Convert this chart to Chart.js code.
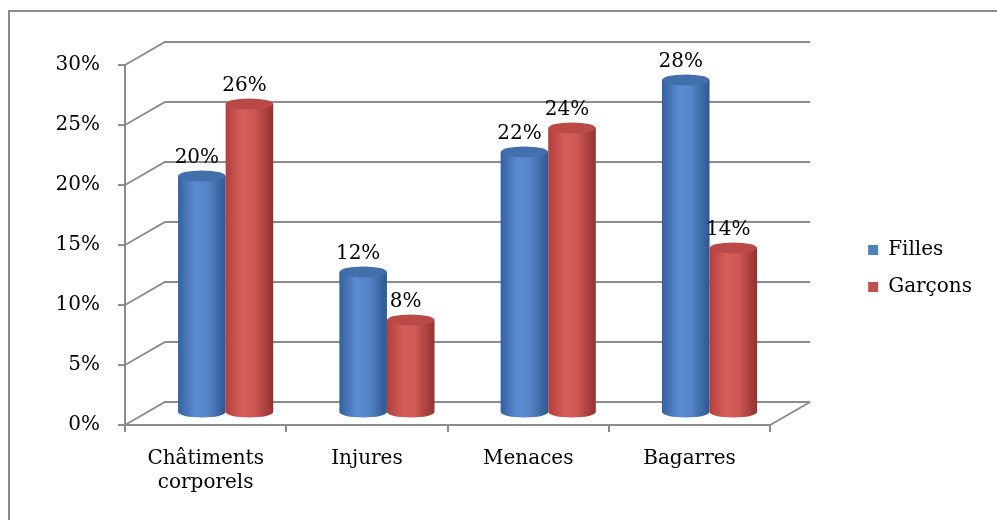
<!DOCTYPE html>
<html>
<head>
<meta charset="utf-8">
<script src="https://cdn.jsdelivr.net/npm/chart.js@4.4.1/dist/chart.umd.min.js"></script>
<style>
  html, body { margin: 0; padding: 0; background: #fff; }
  canvas { display: block; }
</style>
</head>
<body>
<canvas id="chart" width="997" height="520"></canvas>
<script>
const categories = [['Châtiments', 'corporels'], 'Injures', 'Menaces', 'Bagarres'];
const filles = [20, 12, 22, 28];
const garcons = [26, 8, 24, 14];
const seriesNames = ['Filles', 'Garçons'];

const GRID = '#8c8c8c';
const DEPTH_X = 40, DEPTH_Y = -23;   // back wall offset from the front axes
const BAR_DX = 20, BAR_DY = -9;      // cylinders stand half way in
const RY = 5.5;                      // ellipse half height

const looks = [
  { stops: ['#34619e', '#5a8ad0', '#5686c9', '#2e5891'], top: '#4270ad' },
  { stops: ['#b23f3c', '#d65e5a', '#cf5854', '#913331'], top: '#bb4a47' }
];

const cylinders = {
  id: 'cylinders',
  beforeDraw(chart) {
    const ctx = chart.ctx;
    ctx.save();
    ctx.strokeStyle = GRID;
    ctx.lineWidth = 2;
    ctx.strokeRect(9, 11, 2000, 2000);
    ctx.restore();
  },
  beforeDatasetsDraw(chart) {
    const ctx = chart.ctx, y = chart.scales.y, a = chart.chartArea;
    ctx.save();
    ctx.strokeStyle = GRID;
    ctx.lineWidth = 2;
    ctx.beginPath();
    y.ticks.forEach(t => {
      const fy = y.getPixelForValue(t.value);
      ctx.moveTo(a.left, fy);
      ctx.lineTo(a.left + DEPTH_X, fy + DEPTH_Y);
      ctx.lineTo(a.right + DEPTH_X, fy + DEPTH_Y);
    });
    ctx.moveTo(a.right, a.bottom);
    ctx.lineTo(a.right + DEPTH_X, a.bottom + DEPTH_Y);
    ctx.stroke();
    ctx.restore();
  },
  beforeDatasetDraw() {
    return false;
  },
  afterDatasetsDraw(chart) {
    const ctx = chart.ctx;
    ctx.save();
    chart.data.datasets.forEach((ds, di) => {
      const look = looks[di];
      chart.getDatasetMeta(di).data.forEach((bar, i) => {
        const { x, y, base, width } = bar;
        const cx = x + BAR_DX, rx = width / 2;
        const l = cx - rx, r = cx + rx;
        const topY = y + BAR_DY, botY = base + BAR_DY - 3;
        const g = ctx.createLinearGradient(l, 0, r, 0);
        g.addColorStop(0, look.stops[0]);
        g.addColorStop(0.35, look.stops[1]);
        g.addColorStop(0.6, look.stops[2]);
        g.addColorStop(1, look.stops[3]);
        ctx.fillStyle = g;
        ctx.beginPath();
        ctx.moveTo(l, topY);
        ctx.lineTo(l, botY);
        ctx.ellipse(cx, botY, rx, RY, 0, Math.PI, 0, true);
        ctx.lineTo(r, topY);
        ctx.closePath();
        ctx.fill();
        ctx.fillStyle = look.top;
        ctx.beginPath();
        ctx.ellipse(cx, topY, rx, RY, 0, 0, Math.PI * 2);
        ctx.fill();

        ctx.fillStyle = '#000';
        ctx.font = '20px "DejaVu Serif"';
        ctx.textAlign = 'center';
        ctx.textBaseline = 'alphabetic';
        ctx.fillText(ds.data[i] + '%', cx - 5, topY - RY - 8);
      });
    });
    ctx.restore();
  }
};

Chart.defaults.font.family = '"DejaVu Serif"';
Chart.defaults.font.size = 20;
Chart.defaults.color = '#000';

new Chart(document.getElementById('chart'), {
  type: 'bar',
  data: {
    labels: categories,
    datasets: [
      { label: seriesNames[0], data: filles, backgroundColor: '#4f81bd' },
      { label: seriesNames[1], data: garcons, backgroundColor: '#c0504d' }
    ]
  },
  options: {
    responsive: false,
    animation: false,
    categoryPercentage: 0.59,
    barPercentage: 1,
    layout: { padding: { top: 17, bottom: 0, left: 0, right: 15 } },
    scales: {
      x: {
        grid: { drawOnChartArea: false, drawTicks: true, tickLength: 7, color: GRID, lineWidth: 2 },
        border: { color: GRID, width: 2 },
        ticks: { padding: 15, maxRotation: 0, autoSkip: false },
        afterFit: s => { s.height = 95; }
      },
      y: {
        min: 0, max: 30,
        grid: { drawOnChartArea: false, drawTicks: true, tickLength: 7, color: GRID, lineWidth: 2 },
        border: { color: GRID, width: 2 },
        ticks: { stepSize: 5, padding: 18, callback: v => v + '%' },
        afterFit: s => { s.width = 125; }
      },
      topSpacer: {
        axis: 'x',
        type: 'linear',
        position: 'top',
        grid: { display: false },
        border: { display: false },
        ticks: { display: false },
        afterFit: s => { s.height = 48; }
      },
      spacer: {
        axis: 'y',
        type: 'linear',
        position: 'right',
        grid: { display: false },
        border: { display: false },
        ticks: { display: false },
        afterFit: s => { s.width = 81; }
      }
    },
    plugins: {
      legend: {
        position: 'right',
        labels: { boxWidth: 10, boxHeight: 10, padding: 17 }
      },
      tooltip: { enabled: false }
    }
  },
  plugins: [cylinders]
});
</script>
</body>
</html>
